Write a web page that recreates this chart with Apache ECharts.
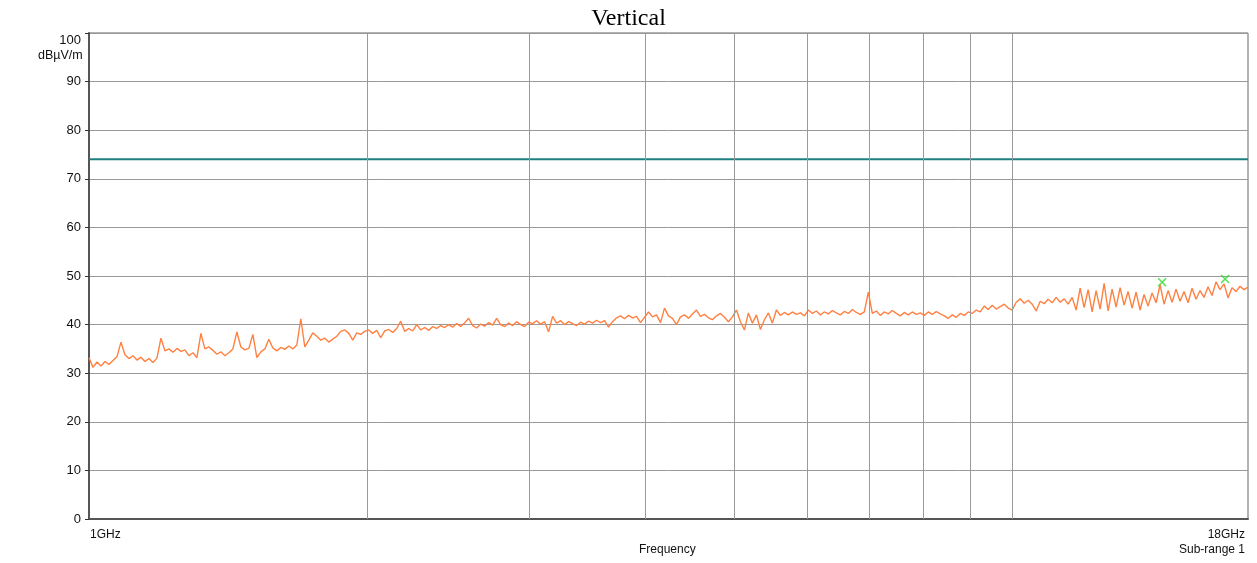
<!DOCTYPE html>
<html>
<head>
<meta charset="utf-8">
<script src="https://cdn.jsdelivr.net/npm/echarts@6/dist/echarts.min.js"></script>
<style>html,body{margin:0;padding:0;background:#fff}#c{width:1257px;height:563px}</style>
</head>
<body>
<div id="c"></div>
<script>
// Sweep range (GHz)
var startGHz = 1;
var stopGHz = 18;
var traceValues = [
33.2,31.2,32.3,31.5,32.4,31.8,32.6,33.4,36.4,33.8,
33.0,33.6,32.7,33.3,32.4,33.0,32.2,33.1,37.2,34.6,
35.0,34.3,35.1,34.5,34.8,33.6,34.2,33.2,38.2,35.0,
35.4,34.7,33.9,34.4,33.6,34.2,35.0,38.5,35.4,34.8,
35.1,38.0,33.2,34.4,35.0,37.0,35.2,34.6,35.3,34.9,
35.6,35.0,35.8,41.2,35.4,36.8,38.3,37.6,36.8,37.2,
36.4,37.0,37.6,38.6,38.9,38.2,36.8,38.3,38.0,38.6,
38.9,38.2,38.8,37.3,38.7,39.0,38.4,39.2,40.7,38.6,
39.2,38.7,40.0,38.9,39.4,38.8,39.6,39.2,39.8,39.4,
40.0,39.5,40.2,39.6,40.4,41.3,39.8,39.3,40.1,39.7,
40.4,39.9,41.3,40.0,39.6,40.3,39.8,40.6,40.0,39.6,
40.5,40.2,40.8,40.1,40.6,38.5,41.7,40.3,40.8,40.0,
40.6,40.2,39.8,40.5,40.1,40.7,40.3,40.9,40.4,40.8,
39.5,40.6,41.4,41.8,41.2,41.9,41.4,41.7,40.4,41.5,
42.6,41.6,42.0,40.4,43.4,41.8,41.3,40.0,41.6,42.0,
41.3,42.2,43.0,41.7,42.1,41.4,41.0,41.8,42.3,41.5,
40.6,41.6,43.0,40.6,38.9,42.4,40.3,42.0,39.0,41.0,
42.4,40.3,43.0,41.9,42.5,42.0,42.6,42.1,42.4,41.8,
43.0,42.3,42.8,42.0,42.6,42.2,42.9,42.4,42.0,42.7,
42.3,43.1,42.5,42.1,42.6,46.7,42.3,42.8,41.9,42.6,
42.2,42.9,42.3,41.8,42.5,42.0,42.6,42.1,42.4,41.9,
42.6,42.1,42.7,42.2,41.8,41.3,42.0,41.5,42.3,41.9,
42.6,42.3,43.0,42.6,43.8,43.1,44.0,43.2,43.7,44.2,
43.4,43.0,44.6,45.3,44.4,45.0,44.2,42.8,44.8,44.3,
45.2,44.5,45.6,44.6,45.3,44.2,45.6,43.0,47.5,43.5,
47.2,42.6,47.0,43.2,48.5,42.8,47.3,43.6,47.6,44.0,
46.8,43.4,46.7,43.0,46.2,43.8,46.5,44.5,48.2,44.2,
47.0,44.6,47.3,44.8,46.8,44.5,47.5,45.2,47.0,45.6,
47.8,46.0,48.8,47.2,48.4,45.5,47.6,46.8,47.9,47.2,
47.7
];
// Limit line (dBµV/m)
var limitValue = 74;
// Final measurement markers [GHz, dBµV/m]
var markerPoints = [[14.53, 48.7], [17.0, 49.4]];
// Vertical grid frequencies (GHz)
var gridFreqs = [2, 3, 4, 5, 6, 7, 8, 9, 10];
// Y tick labels
var yTicks = [0, 10, 20, 30, 40, 50, 60, 70, 80, 90, 100];

// sweep grid: analyzer points evenly spaced in log frequency
var n = traceValues.length;
var traceData = traceValues.map(function (v, i) {
  return [startGHz * Math.pow(stopGHz / startGHz, i / (n - 1)), v];
});

var sans = 'Liberation Sans, Arial, sans-serif';
var chart = echarts.init(document.getElementById('c'));
chart.setOption({
  animation: false,
  backgroundColor: '#fff',
  title: {
    text: 'Vertical', left: 'center', top: 2,
    textStyle: { fontFamily: 'Liberation Serif, Times New Roman, serif', fontSize: 24, fontWeight: 'normal', color: '#000' }
  },
  grid: { left: 89, right: 9, top: 33, bottom: 44, show: true, borderColor: '#666', borderWidth: 1 },
  xAxis: {
    type: 'log', logBase: 10, min: startGHz, max: stopGHz,
    axisLine: { show: true, lineStyle: { color: '#555', width: 2 } },
    axisTick: { show: false }, axisLabel: { show: false }, splitLine: { show: false }, minorTick: { show: false }
  },
  yAxis: {
    type: 'value', min: 0, max: 100, interval: 10,
    axisLine: { show: true, lineStyle: { color: '#555', width: 2 } },
    axisTick: { show: true, length: 4, lineStyle: { color: '#333' } },
    axisLabel: { color: '#111', fontFamily: sans, fontSize: 13, margin: 8, padding: [0, 0, 5, 0],
      formatter: function (v) { return (v !== 100 && yTicks.indexOf(v) >= 0) ? String(v) : ''; } },
    splitLine: { show: true, lineStyle: { color: '#999', width: 1 } }
  },
  graphic: [
    { type: 'text', right: 1257 - 81, top: 34, style: { text: String(yTicks[yTicks.length - 1]), font: '13px ' + sans, fill: '#111', textAlign: 'right' } },
    { type: 'text', left: 38, top: 49, style: { text: 'dBµV/m', font: '12.5px ' + sans, fill: '#111' } },
    { type: 'text', left: 90, top: 529, style: { text: '1GHz', font: '12px ' + sans, fill: '#111' } },
    { type: 'text', right: 12, top: 529, style: { text: '18GHz', font: '12px ' + sans, fill: '#111' } },
    { type: 'text', left: 639, top: 544, style: { text: 'Frequency', font: '12px ' + sans, fill: '#111' } },
    { type: 'text', right: 12, top: 544, style: { text: 'Sub-range 1', font: '12px ' + sans, fill: '#111' } }
  ],
  series: [
    {
      type: 'line', data: [], silent: true,
      markLine: {
        silent: true, symbol: 'none', label: { show: false },
        lineStyle: { color: '#999', width: 1, type: 'solid' },
        data: gridFreqs.map(function (f) { return { xAxis: f }; })
      }
    },
    {
      type: 'line', data: [[startGHz, limitValue], [stopGHz, limitValue]],
      showSymbol: false, lineStyle: { color: '#1f7f7f', width: 2 }, silent: true
    },
    {
      type: 'line', data: traceData, showSymbol: false,
      lineStyle: { color: '#ff8040', width: 1.4 }, silent: true
    },
    {
      type: 'scatter', data: markerPoints, symbol: 'path://M0,0L10,10M10,0L0,10',
      symbolSize: 8, itemStyle: { color: 'none', borderColor: '#22dd22', borderWidth: 1.5 }, silent: true
    }
  ]
});
</script>
</body>
</html>
